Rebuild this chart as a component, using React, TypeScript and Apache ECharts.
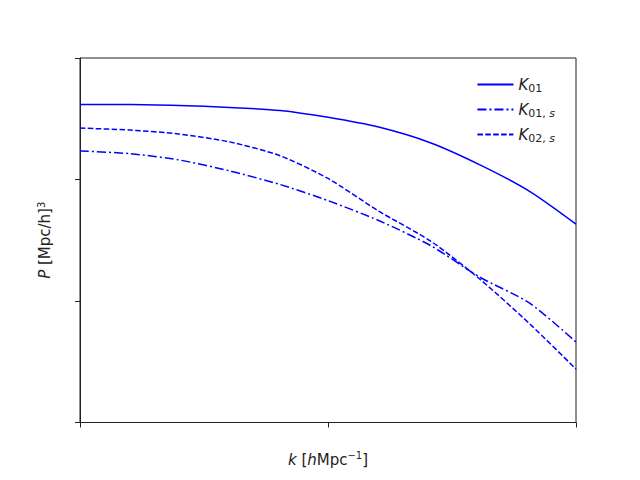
import * as echarts from 'echarts';
import { useEffect, useRef } from 'react';

const kValues = [0.01, 0.016, 0.025, 0.04, 0.064, 0.1, 0.16, 0.26, 0.41, 0.65, 1.0];
const k01 = [415, 415, 407, 392, 370, 325, 270, 200, 132, 80, 43];
const k01s = [172, 163, 145, 118, 91, 67, 46, 28.5, 15.7, 9.6, 4.6];
const k02s = [265, 255, 237, 204, 157, 102, 55, 31, 15.1, 6.5, 2.75];

const pair = (ys: number[]) => kValues.map((k, i) => [k, ys[i]]);

const sub = { fontSize: 11, fontFamily: 'DejaVu Sans', verticalAlign: 'bottom' as const, padding: [8, 0, 0, 0] };
const ital = { fontSize: 15, fontFamily: 'DejaVu Sans', fontStyle: 'italic' as const };
const sup = { fontSize: 10, verticalAlign: 'top' as const, padding: [0, 0, 8, 0], fontFamily: 'DejaVu Sans' };

const App = () => {
    const chartRef = useRef<HTMLDivElement>(null);

    useEffect(() => {
        if (!chartRef.current) return;
        const chart = echarts.init(chartRef.current, undefined, { renderer: 'svg' });
        const lineSeries = (name: string, data: number[], type: any) => ({
            name, type: 'line', data: pair(data), showSymbol: false, symbol: 'none', smooth: 0.25,
            lineStyle: { color: '#0000ff', width: 1.5, type },
            itemStyle: { color: '#0000ff' },
        });
        chart.setOption({
            animation: false,
            grid: { left: 72, right: 56, top: 50, bottom: 45, show: true, borderColor: '#222', borderWidth: 1 },
            legend: {
                right: 72, top: 64, orient: 'vertical', itemGap: 8, itemWidth: 36, itemHeight: 16,
                itemStyle: { opacity: 0 },
                data: ['K01', 'K01s', 'K02s'],
                formatter: (n: string) => n === 'K01' ? '{i|K}{s|01}' : n === 'K01s' ? '{i|K}{s|01, }{si|s}' : '{i|K}{s|02, }{si|s}',
                textStyle: { rich: { i: ital, s: sub, si: { ...sub, fontStyle: 'italic' } }, color: '#222' },
            },
            xAxis: {
                type: 'log', min: 0.01, max: 1, logBase: 10,
                axisLabel: { show: false }, splitLine: { show: false },
                axisLine: { lineStyle: { color: '#222' } },
                axisTick: { length: 5, lineStyle: { color: '#222' } },
                name: '{i|k} [{i|h}Mpc{s|−1}]', nameLocation: 'middle', nameGap: 28,
                nameTextStyle: { color: '#222', fontSize: 15, fontFamily: 'DejaVu Sans', rich: { i: ital, s: sup } },
            },
            yAxis: {
                type: 'log', min: 1, max: 1000, logBase: 10,
                axisLabel: { show: false }, splitLine: { show: false },
                axisLine: { lineStyle: { color: '#222' } },
                axisTick: { length: 5, lineStyle: { color: '#222' } },
                name: '{i|P} [Mpc/h]{s|3}', nameLocation: 'middle', nameGap: 26,
                nameTextStyle: { color: '#222', fontSize: 15, fontFamily: 'DejaVu Sans', rich: { i: ital, s: sup } },
            },
            series: [
                lineSeries('K01', k01, 'solid'),
                lineSeries('K01s', k01s, [9, 3, 2, 3]),
                lineSeries('K02s', k02s, [5.5, 2.4]),
            ],
        });
        return () => chart.dispose();
    }, []);

    return <div ref={chartRef} style={{ width: 624, height: 464 }} />;
};

export default App;
